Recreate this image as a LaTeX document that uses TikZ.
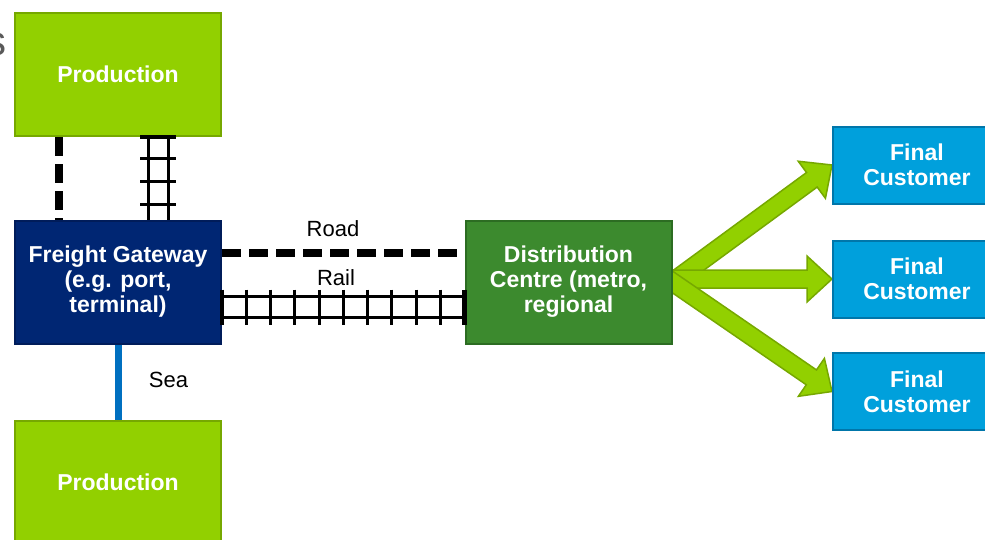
\documentclass[tikz,border=0pt]{standalone}
\usepackage{fontspec}
\setmainfont{Liberation Sans}
\usetikzlibrary{calc}
\definecolor{prodgreen}{RGB}{146,208,0}
\definecolor{prodedge}{RGB}{118,168,0}
\definecolor{navy}{RGB}{0,38,115}
\definecolor{navyedge}{RGB}{0,28,90}
\definecolor{dcgreen}{RGB}{60,138,46}
\definecolor{dcedge}{RGB}{44,108,34}
\definecolor{custblue}{RGB}{0,160,220}
\definecolor{custedge}{RGB}{0,118,170}
\definecolor{seablue}{RGB}{0,112,192}
\definecolor{titlegray}{RGB}{89,89,89}
\pgfdeclarelayer{background}
\pgfsetlayers{background,main}
\newcommand\greenarrow[2]{%
  \coordinate (gaT) at ($(#2)!1.12!(#1)$);
  \coordinate (gaH) at ($(#2)!25pt!(#1)$);
  \draw[blockarrow] ($(gaT)!9pt!90:(#2)$) -- ($(gaH)!9pt!90:(#2)$) -- ($(gaH)!23pt!90:(#2)$) -- (#2)
    -- ($(gaH)!23pt!-90:(#2)$) -- ($(gaH)!9pt!-90:(#2)$) -- ($(gaT)!9pt!-90:(#2)$) -- cycle;}
\begin{document}
\begin{tikzpicture}[x=1pt,y=-1pt,
  boxtext/.style={text=white, font=\fontsize{23}{25}\selectfont\bfseries, align=center, inner sep=0pt},
  bigbox/.style={boxtext, draw, line width=2pt, minimum width=206pt, minimum height=123pt},
  prodbox/.style={bigbox, fill=prodgreen, draw=prodedge},
  gatebox/.style={bigbox, fill=navy, draw=navyedge},
  dcbox/.style={bigbox, fill=dcgreen, draw=dcedge},
  custbox/.style={boxtext, draw=custedge, fill=custblue, line width=2pt, minimum width=168pt, minimum height=77pt},
  lbl/.style={font=\fontsize{22}{25}\selectfont, text=black, inner sep=0pt, anchor=base},
  road/.style={line width=8pt, dash pattern=on 19pt off 8pt},
  rail/.style={line width=3pt},
  railend/.style={line width=4.5pt},
  sealine/.style={line width=7pt, draw=seablue},
  blockarrow/.style={fill=prodgreen, draw=prodedge, line width=1.5pt, line join=miter}]
\useasboundingbox (0,0) rectangle (985,539);
\clip (0,0) rectangle (985,539);

\node[anchor=base east, inner sep=0pt, text=titlegray, font=\fontsize{42}{50}\selectfont] (title) at (7,55) {s};

\node[prodbox] (prod1) at (118,74.5) {Production};
\node[gatebox] (fg) at (118,282) {Freight Gateway\\(e.g. port,\\terminal)};
\node[prodbox] (prod2) at (118,482.5) {Production};
\node[dcbox] (dc) at (568.5,282) {Distribution\\Centre (metro,\\regional};
\node[custbox] (fc1) at (917,165) {Final\\Customer};
\node[custbox] (fc2) at (917,279) {Final\\Customer};
\node[custbox] (fc3) at (917,391.5) {Final\\Customer};

% arrows to customers
\coordinate (dcmid) at (dc.east |- fc2.west);
\begin{pgfonlayer}{background}
\greenarrow{dc.east}{fc1.west}
\greenarrow{dcmid}{fc2.west}
\greenarrow{dc.east}{fc3.west}
\end{pgfonlayer}

% vertical road
\draw[road] ($(prod1.south west)+(45,0)$) -- ($(fg.north west)+(45,0)$);
% vertical rail
\coordinate (va) at ($(prod1.south west)+(134,0)$);
\coordinate (vb) at ($(prod1.south west)+(154,0)$);
\draw[rail] (va) -- (va |- fg.north);
\draw[rail] (vb) -- (vb |- fg.north);
\draw[railend] ($(va)+(-8,0)$) -- ($(vb)+(8,0)$);
\foreach \d in {21,44,67} \draw[rail] ($(va)+(-8,\d)$) -- ($(vb)+(8,\d)$);

% horizontal road
\draw[road] ($(fg.north east)+(0,33)$) -- ($(dc.north west)+(0,33)$);
\node[lbl] (roadlbl) at (333,236) {Road};
% horizontal rail
\coordinate (ha) at ($(fg.north east)+(0,77)$);
\coordinate (hb) at ($(fg.north east)+(0,98)$);
\coordinate (hc) at (ha -| dc.west);
\coordinate (hd) at (hb -| dc.west);
\draw[rail] (ha) -- (hc);
\draw[rail] (hb) -- (hd);
\draw[railend] ($(ha)+(0,-7)$) -- ($(hb)+(0,7)$);
\draw[railend] ($(hc)+(0,-7)$) -- ($(hd)+(0,7)$);
\foreach \i in {1,...,9} \draw[rail] ($(ha)!\i/10!(hc)+(0,-7)$) -- ($(hb)!\i/10!(hd)+(0,7)$);
\node[lbl] (raillbl) at (336,285) {Rail};

% sea
\draw[sealine] (fg.south) -- (prod2.north);
\node[lbl] (sealbl) at (168.5,387) {Sea};
\end{tikzpicture}
\end{document}
